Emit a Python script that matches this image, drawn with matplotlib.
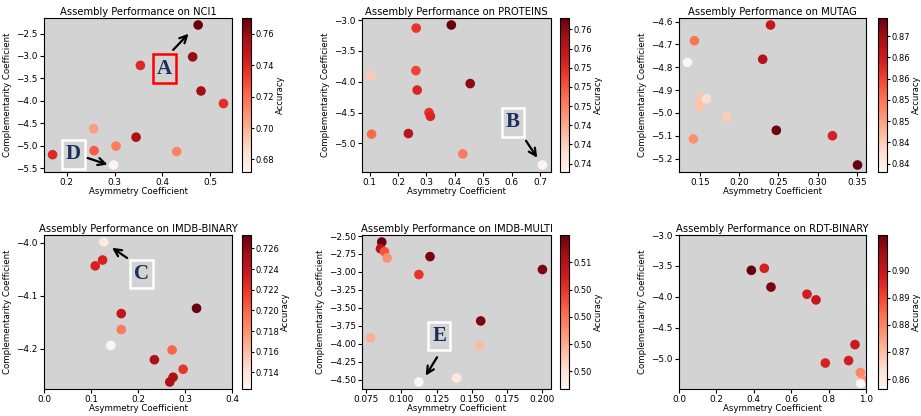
import matplotlib
matplotlib.use('Agg')
import matplotlib.pyplot as plt
import numpy as np

# NCI1
nci1_asym = [0.475, 0.4635, 0.354, 0.481, 0.528, 0.256, 0.345, 0.303, 0.257, 0.430, 0.170, 0.298]
nci1_comp = [-2.31, -3.02, -3.21, -3.78, -4.06, -4.62, -4.81, -5.01, -5.11, -5.13, -5.20, -5.43]
nci1_acc = [0.770, 0.760, 0.740, 0.758, 0.738, 0.705, 0.755, 0.715, 0.725, 0.713, 0.740, 0.672]
nci1_xticks = [0.2, 0.3, 0.4, 0.5]
nci1_yticks = [-5.5, -5.0, -4.5, -4.0, -3.5, -3.0, -2.5]
nci1_cticks = [0.68, 0.70, 0.72, 0.74, 0.76]
nci1_clabels = ['0.68', '0.70', '0.72', '0.74', '0.76']

# PROTEINS
prot_asym = [0.3875, 0.264, 0.1036, 0.263, 0.454, 0.2675, 0.309, 0.314, 0.107, 0.2366, 0.428, 0.708]
prot_comp = [-3.08, -3.13, -3.90, -3.82, -4.03, -4.135, -4.50, -4.56, -4.85, -4.84, -5.17, -5.35]
prot_acc = [0.759, 0.752, 0.743, 0.751, 0.7575, 0.753, 0.752, 0.753, 0.749, 0.755, 0.748, 0.7389]
prot_xticks = [0.1, 0.2, 0.3, 0.4, 0.5, 0.6, 0.7]
prot_yticks = [-5.0, -4.5, -4.0, -3.5, -3.0]
prot_cticks = [0.7400, 0.7425, 0.7450, 0.7475, 0.7500, 0.7525, 0.7550, 0.7575]
prot_clabels = ['0.74', '0.74', '0.74', '0.75', '0.75', '0.75', '0.76', '0.76']

# MUTAG
mutag_asym = [0.240, 0.1428, 0.134, 0.230, 0.152, 0.158, 0.149, 0.184, 0.2474, 0.1415, 0.319, 0.351]
mutag_comp = [-4.615, -4.684, -4.779, -4.765, -4.935, -4.938, -4.971, -5.018, -5.076, -5.114, -5.10, -5.228]
mutag_acc = [0.866, 0.855, 0.838, 0.868, 0.846, 0.843, 0.846, 0.845, 0.8735, 0.852, 0.864, 0.8743]
mutag_xticks = [0.15, 0.20, 0.25, 0.30, 0.35]
mutag_yticks = [-5.2, -5.1, -5.0, -4.9, -4.8, -4.7, -4.6]
mutag_cticks = [0.840, 0.845, 0.850, 0.855, 0.860, 0.865, 0.870]
mutag_clabels = ['0.84', '0.84', '0.85', '0.85', '0.86', '0.86', '0.87']

# IMDB-BINARY
imdbb_asym = [0.1274, 0.1246, 0.109, 0.3246, 0.1644, 0.1644, 0.1423, 0.2726, 0.2349, 0.296, 0.2747, 0.2676]
imdbb_comp = [-3.999, -4.033, -4.044, -4.124, -4.134, -4.164, -4.194, -4.2025, -4.221, -4.239, -4.254, -4.263]
imdbb_acc = [0.7135, 0.723, 0.723, 0.7273, 0.724, 0.719, 0.7124, 0.720, 0.725, 0.722, 0.725, 0.725]
imdbb_xticks = [0.0, 0.1, 0.2, 0.3, 0.4]
imdbb_yticks = [-4.2, -4.1, -4.0]
imdbb_cticks = [0.714, 0.716, 0.718, 0.720, 0.722, 0.724, 0.726]
imdbb_clabels = ['0.714', '0.716', '0.718', '0.720', '0.722', '0.724', '0.726']

# IMDB-MULTI
imdbm_asym = [0.0862, 0.0853, 0.0881, 0.090, 0.1204, 0.1125, 0.200, 0.1563, 0.0783, 0.1553, 0.1393, 0.1125]
imdbm_comp = [-2.583, -2.676, -2.717, -2.805, -2.786, -3.036, -2.966, -3.682, -3.918, -4.024, -4.477, -4.532]
imdbm_acc = [0.508, 0.506, 0.503, 0.501, 0.5075, 0.504, 0.5075, 0.5075, 0.500, 0.4995, 0.4975, 0.4967]
imdbm_xticks = [0.075, 0.100, 0.125, 0.150, 0.175, 0.200]
imdbm_yticks = [-4.50, -4.25, -4.00, -3.75, -3.50, -3.25, -3.00, -2.75, -2.50]
imdbm_cticks = [0.498, 0.500, 0.502, 0.504, 0.506]
imdbm_clabels = ['0.50', '0.50', '0.50', '0.50', '0.51']

# RDT-BINARY
rdt_asym = [0.3868, 0.456, 0.492, 0.6845, 0.7326, 0.941, 0.7825, 0.907, 0.9697, 0.982, 0.971]
rdt_comp = [-3.571, -3.538, -3.842, -3.957, -4.049, -4.772, -5.07, -5.03, -5.223, -5.348, -5.40]
rdt_acc = [0.9133, 0.897, 0.911, 0.898, 0.900, 0.899, 0.897, 0.898, 0.880, 0.878, 0.8563]
rdt_xticks = [0.0, 0.2, 0.4, 0.6, 0.8, 1.0]
rdt_yticks = [-5.0, -4.5, -4.0, -3.5, -3.0]
rdt_cticks = [0.86, 0.87, 0.88, 0.89, 0.90]
rdt_clabels = ['0.86', '0.87', '0.88', '0.89', '0.90']

panels = [
    ('NCI1', nci1_asym, nci1_comp, nci1_acc, nci1_xticks, nci1_yticks, nci1_cticks, nci1_clabels),
    ('PROTEINS', prot_asym, prot_comp, prot_acc, prot_xticks, prot_yticks, prot_cticks, prot_clabels),
    ('MUTAG', mutag_asym, mutag_comp, mutag_acc, mutag_xticks, mutag_yticks, mutag_cticks, mutag_clabels),
    ('IMDB-BINARY', imdbb_asym, imdbb_comp, imdbb_acc, imdbb_xticks, imdbb_yticks, imdbb_cticks, imdbb_clabels),
    ('IMDB-MULTI', imdbm_asym, imdbm_comp, imdbm_acc, imdbm_xticks, imdbm_yticks, imdbm_cticks, imdbm_clabels),
    ('RDT-BINARY', rdt_asym, rdt_comp, rdt_acc, rdt_xticks, rdt_yticks, rdt_cticks, rdt_clabels),
]

fig = plt.figure(figsize=(9.21, 4.16), dpi=100)
W, H = 921, 416
col_px = [(44, 232, 242), (362, 551, 560), (679, 866, 878)]
row_px = [(18, 172), (235, 389)]
cbar_w = 9

axes = []
for i, (name, xs, ys, acc, xt, yt, cticks, clabels) in enumerate(panels):
    r, c = divmod(i, 3)
    left, right, cleft = col_px[c]
    top, bottom = row_px[r]
    ax = fig.add_axes([left / W, (H - bottom) / H, (right - left) / W, (bottom - top) / H])
    cax = fig.add_axes([cleft / W, (H - bottom) / H, cbar_w / W, (bottom - top) / H])
    ax.set_facecolor('lightgray')
    sc = ax.scatter(xs, ys, c=acc, cmap='Reds', s=48, linewidths=0)
    ax.set_xticks(xt)
    ax.set_yticks(yt)
    ax.set_title(f'Assembly Performance on {name}', fontsize=7.2, pad=2)
    ax.set_xlabel('Asymmetry Coefficient', fontsize=6.2, labelpad=0)
    ax.set_ylabel('Complementarity Coefficient', fontsize=6.2, labelpad=3)
    ax.tick_params(labelsize=6.4, length=3, pad=1.5)
    cb = fig.colorbar(sc, cax=cax)
    cb.set_ticks(cticks, labels=clabels)
    cb.ax.tick_params(labelsize=6.0, length=2, pad=1.5)
    cb.set_label('Accuracy', fontsize=6.0, labelpad=1)
    axes.append(ax)

axes[3].set_xlim(0, 0.4)
axes[5].set_xlim(0, 1.0)
axes[5].set_ylim(-5.49, -3.0)


def tag(ax, x, y, letter, edge):
    ax.text(x, y, letter, fontfamily='Liberation Serif', fontweight='bold', fontsize=15,
            color='#1b2f5e', ha='center', va='center',
            bbox=dict(boxstyle='square,pad=0.2', facecolor='lightgray', edgecolor=edge, lw=1.8))


def arrow(ax, start, end):
    ax.annotate('', xy=end, xytext=start,
                arrowprops=dict(arrowstyle='->', color='black', lw=1.6, mutation_scale=13))


tag(axes[0], 0.4045, -3.28, 'A', 'red')
arrow(axes[0], (0.4186, -2.91), (0.459, -2.46))
tag(axes[0], 0.214, -5.195, 'D', 'white')
arrow(axes[0], (0.238, -5.255), (0.2907, -5.44))
tag(axes[1], 0.605, -4.66, 'B', 'white')
arrow(axes[1], (0.645, -4.92), (0.695, -5.27))
tag(axes[3], 0.2078, -4.0596, 'C', 'white')
arrow(axes[3], (0.1815, -4.032), (0.140, -4.0069))
tag(axes[4], 0.1269, -3.89, 'E', 'white')
arrow(axes[4], (0.1264, -4.154), (0.1163, -4.477))

fig.savefig('out.png', dpi=100)
